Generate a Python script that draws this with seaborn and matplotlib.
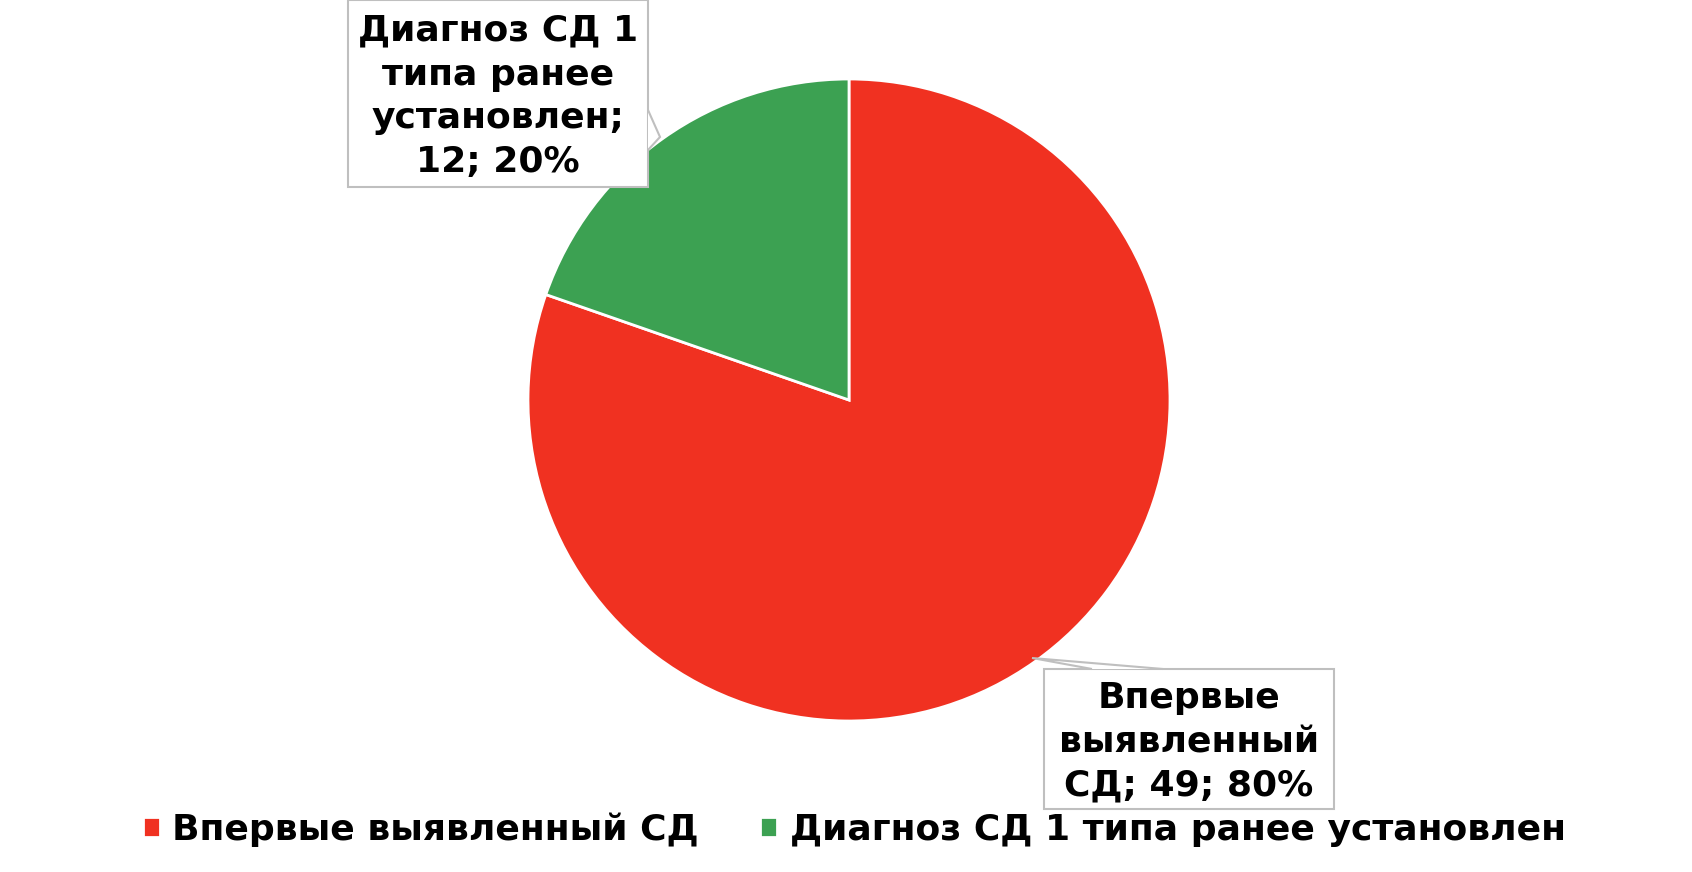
import textwrap
import seaborn as sns
import matplotlib.pyplot as plt
from matplotlib.patches import Polygon, Rectangle

categories = ['Впервые выявленный СД', 'Диагноз СД 1 типа ранее установлен']
counts = [49, 12]
colors = ['#F03121', '#3CA152']

sns.set_theme(style='white')
plt.rcParams['font.family'] = ['DejaVu Sans']

W, H = 1692, 872
fig = plt.figure(figsize=(W / 100, H / 100), dpi=100)
ax = fig.add_axes([0, 0, 1, 1])

def Y(y):
    # image row -> data y (data y goes up)
    return H - y

wedges, _ = ax.pie(counts, colors=sns.color_palette(colors), startangle=90, counterclock=False,
                   center=(849, Y(400)), radius=321,
                   wedgeprops=dict(edgecolor='white', linewidth=2))
ax.set_xlim(0, W)
ax.set_ylim(0, H)
ax.set_aspect('equal')
ax.axis('off')

total = sum(counts)
labels = []
for name, n in zip(categories, counts):
    txt = '%s; %d; %d%%' % (name, n, round(100 * n / total))
    labels.append('\n'.join(textwrap.wrap(txt, 12)))

edge = '#BFBFBF'
# label boxes (x0, y0 top, x1, y1 bottom in image rows) and callout pointers
boxes = [(1044, 669, 1334, 809), (348, 0, 648, 187)]
pointers = [[(1092, 669), (1032, 658), (1163, 669)],
            [(648, 110), (660, 137), (648, 150)]]
for (x0, y0, x1, y1), pts, lab in zip(boxes, pointers, labels):
    ax.add_patch(Rectangle((x0, Y(y1)), x1 - x0, y1 - y0, facecolor='white',
                           edgecolor=edge, linewidth=1.5, zorder=3))
    ax.add_patch(Polygon([(px, Y(py)) for px, py in pts], closed=False, facecolor='white',
                         edgecolor=edge, linewidth=1.5, zorder=4))
    ax.text((x0 + x1) / 2, Y((y0 + y1) / 2 + 3), lab, ha='center', va='center',
            fontsize=26, fontweight='bold', color='black', linespacing=1.36, zorder=5)

fig.legend(handles=wedges, labels=categories, loc='center', bbox_to_anchor=(0.505, 0.049),
           ncol=2, frameon=False, handlelength=0.47, handleheight=0.47, handletextpad=0.35,
           columnspacing=1.7, labelcolor='black', prop=dict(size=26, weight='bold'))

fig.savefig('out.png', dpi=100, facecolor='white')
